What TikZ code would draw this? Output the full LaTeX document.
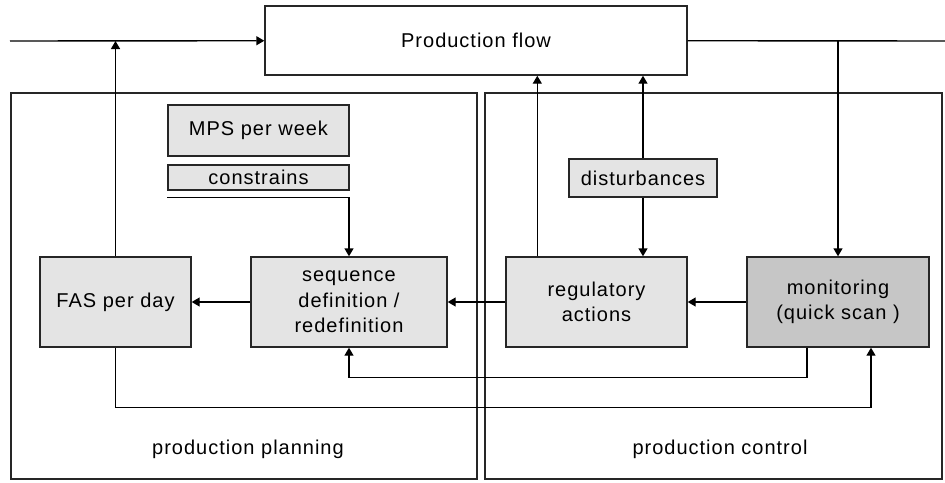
\documentclass[tikz,border=0pt]{standalone}
\usepackage{fontspec}
\setmainfont{Liberation Sans}[LetterSpace=5]
\usepackage{tikz}
\usetikzlibrary{arrows.meta, positioning}

\definecolor{boxgray}{HTML}{E4E4E4}
\definecolor{dargray}{HTML}{C6C6C6}

\begin{document}
\begin{tikzpicture}[
    x = 1pt, y = -1pt, % pixel grid of the sheet
    > = {Triangle[length=8pt, width=9pt]}, % arrow head style
    line width = 1.4pt, % line style
    font = \fontsize{20}{25.5}\selectfont
]

\tikzstyle{every block}=[
    draw = black!85,
    rectangle,
    align = center,
    inner sep = 0pt
]
\tikzstyle{block}=[every block, fill = boxgray]
\tikzstyle{panel}=[draw = black!85]

\useasboundingbox (0,0) rectangle (945,482);

% the two fields
\draw[panel] (11,93) rectangle (477,479);
\draw[panel] (485,93) rectangle (942,479);
\node (Planning Label) at (248,449) {production planning};
\node (Control Label) at (720,449) {production control};

\node[every block, fill = white, minimum width = 422pt, minimum height = 69pt] (Production Flow) at (476,40.5) {Production flow};

\node[block, minimum width = 181pt, minimum height = 51pt] (MPS) at (258.5,130.5) {MPS per week};
\node[block, minimum width = 181pt, minimum height = 25pt] (Constrains) at (258.5,177.5) {constrains};
\node[block, minimum width = 148pt, minimum height = 38pt] (Disturbances) at (643,178) {disturbances};

\node[block, minimum width = 151pt, minimum height = 90pt] (FAS) at (115.5,302) {FAS per day};
\node[block, minimum width = 196pt, minimum height = 90pt] (Sequence) at (349,302) {sequence\\definition /\\redefinition};
\node[block, minimum width = 181pt, minimum height = 90pt] (Regulatory) at (596.5,302) {regulatory\\actions};
\node[block, fill = dargray, minimum width = 182pt, minimum height = 90pt] (Monitoring) at (838,302) {monitoring\\(quick scan )};

\coordinate (Flow In) at (10,41);
\coordinate (Flow Out) at (945,41);

\draw[->] (Flow In) -- (Production Flow);
\draw (Production Flow) -- (Flow Out);
\draw[->] (Monitoring.north |- Flow Out) -- (Monitoring.north);
\draw[->] (FAS.north) -- (FAS.north |- Flow In);

\draw[->] (Sequence) -- (FAS);
\draw[->] (Regulatory) -- (Sequence);
\draw[->] (Monitoring) -- (Regulatory);

\draw[->] ([xshift=32pt]Regulatory.north west) coordinate (Reg Up) -- (Reg Up |- Production Flow.south);
\draw[->] (Disturbances.north) -- (Disturbances.north |- Production Flow.south);
\draw[->] (Disturbances.south) -- (Disturbances.south |- Regulatory.north);
\draw[->] ([yshift=-7pt]Constrains.south west) -| (Sequence.north);

\draw[->] ([xshift=-31pt]Monitoring.south) -- ++(0,30) -| (Sequence.south);
\draw[->] (FAS.south) -- ++(0,60) -| ([xshift=33pt]Monitoring.south);

%\draw[red, dashed] (0,0) rectangle (945,482);
\end{tikzpicture}
\end{document}
